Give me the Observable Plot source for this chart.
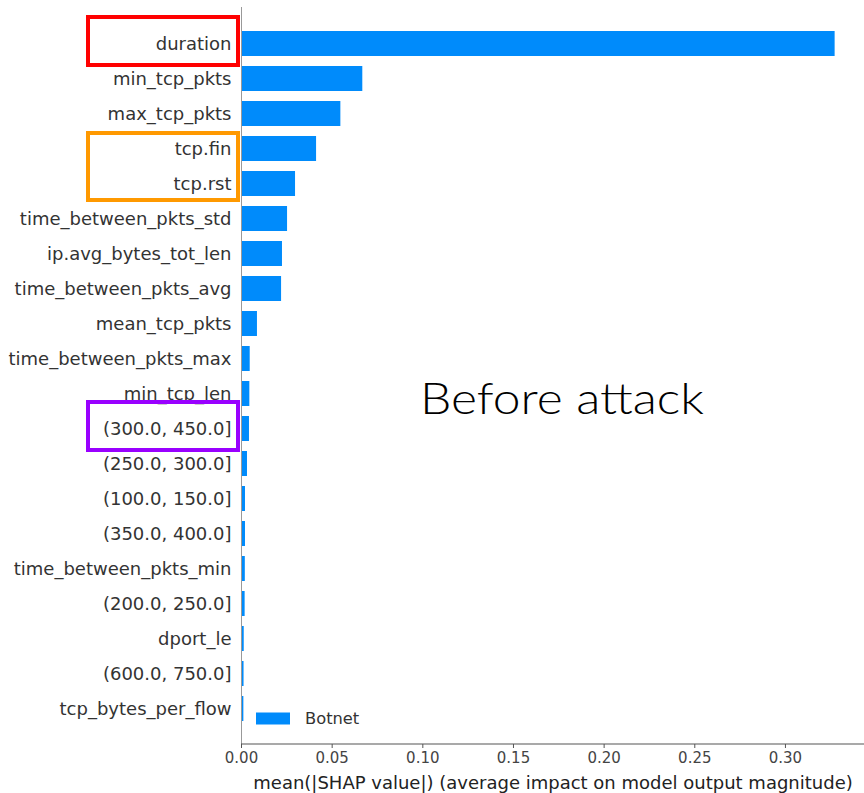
<!DOCTYPE html>
<html>
<head>
<meta charset="utf-8">
<script src="https://cdn.jsdelivr.net/npm/d3@7"></script>
<script src="https://cdn.jsdelivr.net/npm/@observablehq/plot@0.6"></script>
<style>
  html, body { margin: 0; padding: 0; background: #fff; }
  #chart { width: 864px; height: 793px; position: relative; }
</style>
</head>
<body>
<div id="chart"></div>
<script>
const features = [
  "duration", "min_tcp_pkts", "max_tcp_pkts", "tcp.fin", "tcp.rst",
  "time_between_pkts_std", "ip.avg_bytes_tot_len", "time_between_pkts_avg",
  "mean_tcp_pkts", "time_between_pkts_max", "min_tcp_len",
  "(300.0, 450.0]", "(250.0, 300.0]", "(100.0, 150.0]", "(350.0, 400.0]",
  "time_between_pkts_min", "(200.0, 250.0]", "dport_le", "(600.0, 750.0]",
  "tcp_bytes_per_flow"
];
const shapValues = [
  0.3274, 0.0669, 0.0548, 0.0414, 0.0298,
  0.0254, 0.0226, 0.0221,
  0.0088, 0.0048, 0.0046,
  0.0044, 0.0033, 0.0022, 0.0022,
  0.0021, 0.0020, 0.0015, 0.0014,
  0.0013
];
const xTicks = [0, 0.05, 0.10, 0.15, 0.20, 0.25, 0.30];
const seriesName = "Botnet";
const xLabel = "mean(|SHAP value|) (average impact on model output magnitude)";
const annotationText = "Before attack";
const highlightGroups = [
  {first: "duration", last: "duration", color: "#ff0000"},
  {first: "tcp.fin", last: "tcp.rst", color: "#ff9900"},
  {first: "(300.0, 450.0]", last: "(300.0, 450.0]", color: "#9900ff"}
];

const data = features.map((f, i) => ({feature: f, value: shapValues[i]}));
const barColor = "#008bfb";

const plot = Plot.plot({
  width: 864,
  height: 793,
  marginTop: 7,
  marginBottom: 49,
  marginLeft: 241,
  marginRight: 0,
  style: {fontFamily: "DejaVu Sans", background: "#fff", color: "#333"},
  x: {domain: [0, 0.3436]},
  y: {domain: features, paddingInner: 0.3, paddingOuter: 0.66},
  marks: [
    Plot.barX(data, {x: "value", y: "feature", fill: barColor}),
    Plot.ruleX([0], {stroke: "#999", strokeWidth: 1}),
    Plot.axisY({tickSize: 0, tickPadding: 10, fontSize: 18, fill: "#333", label: null}),
    Plot.axisX({ticks: xTicks, tickSize: 4, tickPadding: 4, fontSize: 15, fill: "#444", stroke: "#555",
      tickFormat: d3.format(".2f"), label: null}),
    Plot.text([xLabel], {frameAnchor: "bottom", dy: 39, lineAnchor: "middle", fontSize: 18, fill: "#222"})
  ]
});

document.getElementById("chart").appendChild(plot);

const svg = d3.select(plot);
const yS = plot.scale("y");
const xS = plot.scale("x");
const x0 = xS.apply(0);
const yBottom = 793 - 49;

// bottom spine
svg.append("line")
  .attr("x1", x0).attr("x2", 864)
  .attr("y1", yBottom).attr("y2", yBottom)
  .attr("stroke", "#555").attr("stroke-width", 1.2);

// highlight boxes around labels
const pads = [[14, 9], [3, 4], [14, 9]];
highlightGroups.forEach((g, i) => {
  const top = yS.apply(g.first) - pads[i][0];
  const bottom = yS.apply(g.last) + yS.bandwidth + pads[i][1];
  svg.append("rect")
    .attr("x", x0 - 153).attr("y", top)
    .attr("width", 150).attr("height", bottom - top)
    .attr("fill", "none").attr("stroke", g.color).attr("stroke-width", 4);
});

// legend
const legY = yS.apply(features[features.length - 1]) + yS.bandwidth / 2 + 10;
svg.append("rect")
  .attr("x", x0 + 15).attr("y", legY - 6)
  .attr("width", 34).attr("height", 12)
  .attr("fill", barColor);
svg.append("text")
  .attr("x", x0 + 64).attr("y", legY)
  .attr("dy", "0.35em")
  .attr("text-anchor", "start")
  .attr("font-family", "DejaVu Sans").attr("font-size", 16.3).attr("fill", "#333")
  .text(seriesName);

// annotation
svg.append("text")
  .attr("x", 420).attr("y", 414)
  .attr("text-anchor", "start")
  .attr("font-family", "Lato, 'Noto Sans', sans-serif").attr("font-size", 44)
  .attr("font-weight", 300)
  .attr("textLength", 284).attr("lengthAdjust", "spacingAndGlyphs")
  .attr("fill", "#000")
  .text(annotationText);
</script>
</body>
</html>
